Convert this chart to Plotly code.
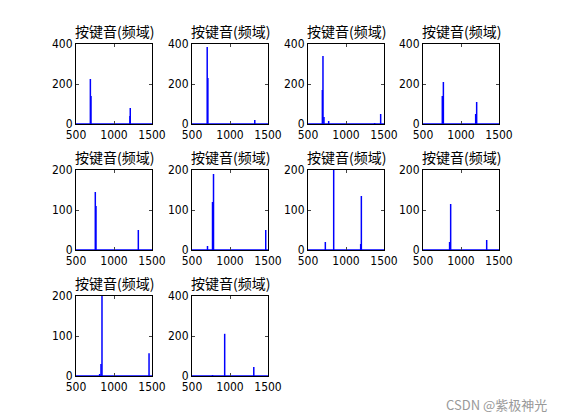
import plotly.graph_objects as go

# peak frequencies (Hz) and magnitudes for each key tone spectrum
peak_freqs = [
    [689, 697, 1210, 1214],
    [700, 709, 1326],
    [689, 697, 710, 772, 1377, 1456],
    [754, 768, 1193, 1206],
    [754, 763, 1320],
    [704, 770, 783, 1470],
    [728, 838, 1193, 1202],
    [850, 864, 1338],
    [811, 829, 842, 1461],
    [770, 930, 1313],
]
peak_amps = [
    [225, 140, 40, 80],
    [385, 230, 20],
    [170, 340, 35, 15, 5, 50],
    [140, 210, 50, 110],
    [145, 110, 50],
    [10, 120, 190, 50],
    [20, 200, 15, 135],
    [20, 115, 25],
    [5, 30, 200, 57],
    [5, 211, 45],
]
y_max = [400, 400, 400, 400, 200, 200, 200, 200, 200, 400]
y_ticks = {400: [0, 200, 400], 200: [0, 100, 200]}
title = "按键音(频域)"

W, H = 562, 420
col_px = [(68, 144), (184, 260), (300, 376), (415, 491)]
row_px = [(36, 116), (162, 242), (288, 368)]

fig = go.Figure()
font = dict(family="Noto Sans CJK SC", size=14, color="black")

for i in range(len(peak_freqs)):
    r, c = divmod(i, 4)
    n = "" if i == 0 else str(i + 1)
    x, y = [500, 1500, None], [0, 0, None]
    for f, a in zip(peak_freqs[i], peak_amps[i]):
        x += [f, f, None]
        y += [0, a, None]
    fig.add_trace(go.Scatter(x=x, y=y, mode="lines", line=dict(color="#0000ff", width=1.5),
                             xaxis="x" + n, yaxis="y" + n, showlegend=False))
    x0, x1 = col_px[c]
    y0, y1 = row_px[r]
    common = dict(showgrid=False, zeroline=False, showline=True, linecolor="black",
                  linewidth=1, mirror="ticks", ticks="inside", ticklen=3, automargin=False,
                  tickfont=dict(family="DejaVu Sans Condensed", size=12, color="black"))
    fig.layout["xaxis" + n] = dict(domain=[x0 / W, x1 / W], range=[500, 1500],
                                   tickvals=[500, 1000, 1500], anchor="y" + n, **common)
    fig.layout["yaxis" + n] = dict(domain=[1 - y1 / H, 1 - y0 / H], range=[0, y_max[i]],
                                   tickvals=y_ticks[y_max[i]], anchor="x" + n, **common)
    fig.add_annotation(text=title, x=(x0 + x1) / 2 / W, y=1 - (y0 - 1) / H,
                       xref="paper", yref="paper", xanchor="center", yanchor="bottom",
                       showarrow=False, font=font)

fig.add_annotation(text="CSDN @紫极神光", x=541 / W, y=1 - 396 / H, xref="paper", yref="paper",
                   xanchor="right", yanchor="middle", showarrow=False,
                   font=dict(family="Noto Sans CJK SC", size=13, color="#999999"))

fig.update_layout(width=W, height=H, margin=dict(l=0, r=0, t=0, b=0, autoexpand=False),
                  paper_bgcolor="white", plot_bgcolor="white")
fig.write_html("out.html")
